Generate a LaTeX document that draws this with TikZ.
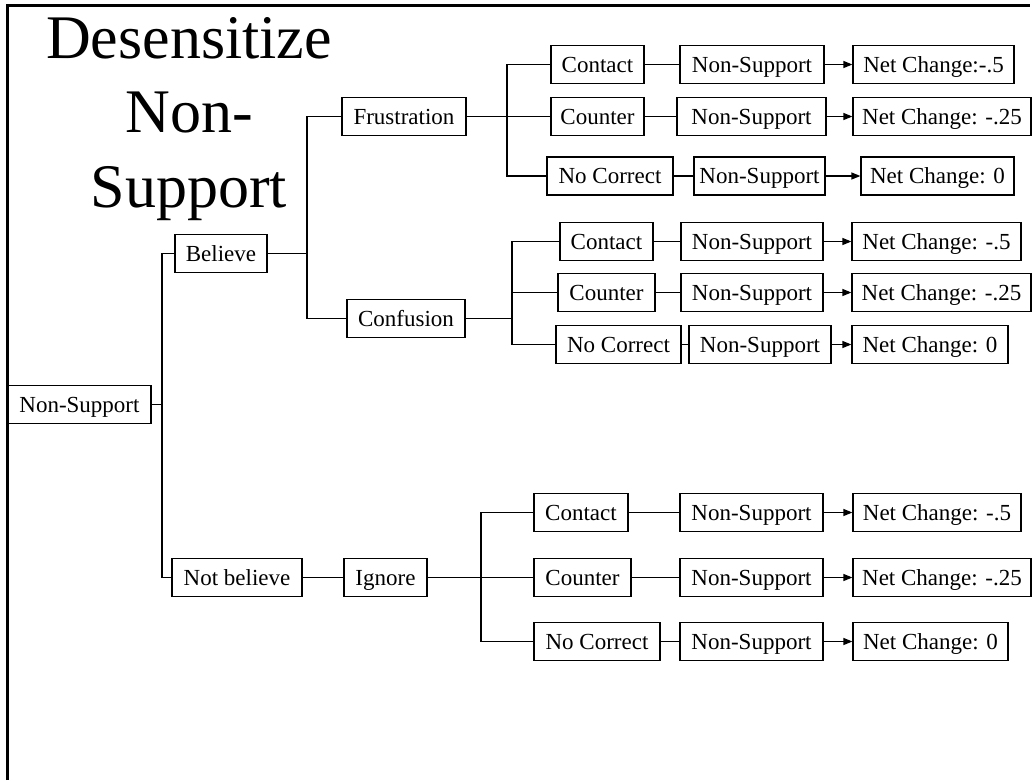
\documentclass[tikz,border=0pt]{standalone}
\usepackage{fontspec}
\setmainfont{Liberation Serif}
\usetikzlibrary{arrows.meta}
\begin{document}
\begin{tikzpicture}[x=1pt,y=-1pt,
  bx/.style={draw, line width=1.2pt, inner sep=0pt, minimum height=38pt,
             text height=16pt, text depth=1pt,
             font=\fontsize{23}{26}\selectfont},
  ln/.style={line width=1.2pt},
  arr/.style={line width=1.2pt, -{Triangle[length=9pt,width=7pt]}},
  ttl/.style={anchor=base, inner sep=0pt, font=\fontsize{62}{70}\selectfont}]
\useasboundingbox (0,0) rectangle (1034,780);
% page frame
\draw[line width=3pt] (7.5,780) -- (7.5,5.5) -- (1030,5.5);

% title
\node[ttl] (t1) at (189,58) {Desensitize};
\node[ttl] (t2) at (189,132) {Non-};
\node[ttl] (t3) at (189,207) {Support};

% tree trunk
\node[bx, minimum width=143pt] (root) at (79.5,404.5) {Non-Support};
\node[bx, minimum width=92pt] (bel) at (221,253.5) {Believe};
\node[bx, minimum width=130pt] (notb) at (237,577.5) {Not believe};
\node[bx, minimum width=124pt] (frus) at (404,116.5) {Frustration};
\node[bx, minimum width=118pt] (conf) at (406,318.5) {Confusion};
\node[bx, minimum width=83pt] (ign) at (385.5,577.5) {Ignore};

% frustration branch
\node[bx, minimum width=93pt] (c1a) at (597.5,64.5) {Contact};
\node[bx, minimum width=144pt] (n1a) at (752,64.5) {Non-Support};
\node[bx, minimum width=161pt] (r1a) at (933.5,64.5) {Net Change:-.5};
\node[bx, minimum width=93pt] (c1b) at (597.5,116.5) {Counter};
\node[bx, minimum width=149pt] (n1b) at (751.5,116.5) {Non-Support};
\node[bx, minimum width=178pt] (r1b) at (942,116.5) {Net Change: -.25};
\node[bx, minimum width=126pt] (c1c) at (610,176) {No Correct};
\node[bx, minimum width=131pt] (n1c) at (759.5,176) {Non-Support};
\node[bx, minimum width=153pt] (r1c) at (937.5,176) {Net Change: 0};

% confusion branch
\node[bx, minimum width=93pt] (c2a) at (606.5,241.5) {Contact};
\node[bx, minimum width=142pt] (n2a) at (752,241.5) {Non-Support};
\node[bx, minimum width=169pt] (r2a) at (936.5,241.5) {Net Change: -.5};
\node[bx, minimum width=97pt] (c2b) at (606.5,292.5) {Counter};
\node[bx, minimum width=142pt] (n2b) at (752,292.5) {Non-Support};
\node[bx, minimum width=179pt] (r2b) at (941.5,292.5) {Net Change: -.25};
\node[bx, minimum width=125pt] (c2c) at (618.5,344.5) {No Correct};
\node[bx, minimum width=142pt] (n2c) at (760,344.5) {Non-Support};
\node[bx, minimum width=156pt] (r2c) at (930,344.5) {Net Change: 0};

% ignore branch
\node[bx, minimum width=94pt] (c3a) at (581,512.5) {Contact};
\node[bx, minimum width=143pt] (n3a) at (751.5,512.5) {Non-Support};
\node[bx, minimum width=168pt] (r3a) at (937,512.5) {Net Change: -.5};
\node[bx, minimum width=97pt] (c3b) at (582.5,577.5) {Counter};
\node[bx, minimum width=143pt] (n3b) at (751.5,577.5) {Non-Support};
\node[bx, minimum width=178pt] (r3b) at (942,577.5) {Net Change: -.25};
\node[bx, minimum width=126pt] (c3c) at (597,641.5) {No Correct};
\node[bx, minimum width=143pt] (n3c) at (751.5,641.5) {Non-Support};
\node[bx, minimum width=155pt] (r3c) at (930.5,641.5) {Net Change: 0};

% junction points
\coordinate (j0) at (162,404.5);
\coordinate (j1) at (307,253.5);
\coordinate (j2) at (507,116.5);
\coordinate (j3) at (512,318.5);
\coordinate (j4) at (481,577.5);

% trunk connectors
\draw[ln] (root.east) -- (j0);
\draw[ln] (bel.west) -| (j0) |- (notb.west);
\draw[ln] (bel.east) -- (j1);
\draw[ln] (frus.west) -| (j1) |- (conf.west);
\draw[ln] (notb.east) -- (ign.west);

% branch connectors
\draw[ln] (frus.east) -- (j2);
\draw[ln] (c1a.west) -| (j2) |- (c1c.west);
\draw[ln] (j2) -- (c1b.west);
\draw[ln] (conf.east) -- (j3);
\draw[ln] (c2a.west) -| (j3) |- (c2c.west);
\draw[ln] (c2b.west) -- (c2b.west -| j3);
\draw[ln] (ign.east) -- (j4);
\draw[ln] (c3a.west) -| (j4) |- (c3c.west);
\draw[ln] (j4) -- (c3b.west);

% row connectors
\foreach \r in {1a,1b,1c,2a,2b,2c,3a,3b,3c}{
  \draw[ln] (c\r.east) -- (n\r.west);
  \draw[arr] (n\r.east) -- (r\r.west);
}
\end{tikzpicture}
\end{document}
